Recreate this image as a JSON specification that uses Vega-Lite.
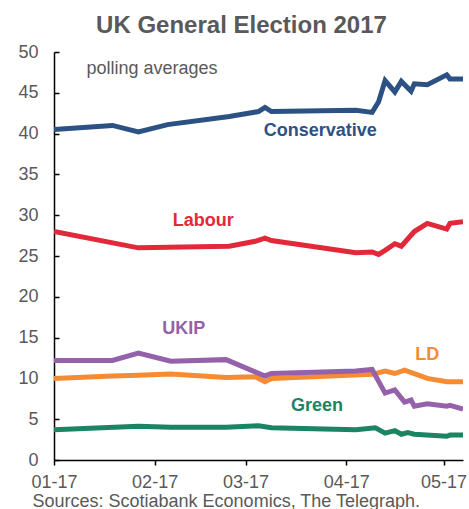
{
  "$schema": "https://vega.github.io/schema/vega-lite/v6.json",
  "width": 409,
  "height": 408,
  "autosize": {"type": "none"},
  "padding": {"left": 54, "top": 52, "right": 6, "bottom": 49},
  "background": "white",
  "config": {
    "font": "Liberation Sans",
    "view": {"stroke": null},
    "axis": {"grid": false, "domainColor": "#000000", "domainWidth": 1.5, "tickColor": "#000000", "tickWidth": 1.5, "labelColor": "#595959", "labelFontSize": 18, "labelFont": "Liberation Sans"}
  },
  "title": {"text": "UK General Election 2017", "fontSize": 24, "fontWeight": "bold", "color": "#595959", "font": "Liberation Sans", "frame": "group", "offset": 5, "dx": -17},
  "datasets": {
    "series": [
      {"date": "2017-01-01", "party": "Conservative", "value": 40.5},
      {"date": "2017-01-19", "party": "Conservative", "value": 41.0},
      {"date": "2017-01-27", "party": "Conservative", "value": 40.2},
      {"date": "2017-02-05", "party": "Conservative", "value": 41.1},
      {"date": "2017-02-24", "party": "Conservative", "value": 42.1},
      {"date": "2017-03-05", "party": "Conservative", "value": 42.7},
      {"date": "2017-03-07", "party": "Conservative", "value": 43.2},
      {"date": "2017-03-09", "party": "Conservative", "value": 42.7},
      {"date": "2017-04-04", "party": "Conservative", "value": 42.85},
      {"date": "2017-04-09", "party": "Conservative", "value": 42.6},
      {"date": "2017-04-11", "party": "Conservative", "value": 43.9},
      {"date": "2017-04-13", "party": "Conservative", "value": 46.5},
      {"date": "2017-04-16", "party": "Conservative", "value": 45.1},
      {"date": "2017-04-18", "party": "Conservative", "value": 46.4},
      {"date": "2017-04-21", "party": "Conservative", "value": 45.2},
      {"date": "2017-04-22", "party": "Conservative", "value": 46.1},
      {"date": "2017-04-26", "party": "Conservative", "value": 46.0},
      {"date": "2017-05-02", "party": "Conservative", "value": 47.2},
      {"date": "2017-05-03", "party": "Conservative", "value": 46.7},
      {"date": "2017-05-07", "party": "Conservative", "value": 46.7},
      {"date": "2017-01-01", "party": "Labour", "value": 28.0},
      {"date": "2017-01-27", "party": "Labour", "value": 26.0},
      {"date": "2017-02-24", "party": "Labour", "value": 26.2},
      {"date": "2017-03-04", "party": "Labour", "value": 26.8},
      {"date": "2017-03-07", "party": "Labour", "value": 27.2},
      {"date": "2017-03-09", "party": "Labour", "value": 26.9},
      {"date": "2017-04-04", "party": "Labour", "value": 25.4},
      {"date": "2017-04-09", "party": "Labour", "value": 25.5},
      {"date": "2017-04-11", "party": "Labour", "value": 25.2},
      {"date": "2017-04-13", "party": "Labour", "value": 25.7},
      {"date": "2017-04-16", "party": "Labour", "value": 26.5},
      {"date": "2017-04-18", "party": "Labour", "value": 26.2},
      {"date": "2017-04-22", "party": "Labour", "value": 28.0},
      {"date": "2017-04-26", "party": "Labour", "value": 29.0},
      {"date": "2017-05-02", "party": "Labour", "value": 28.3},
      {"date": "2017-05-03", "party": "Labour", "value": 29.0},
      {"date": "2017-05-07", "party": "Labour", "value": 29.2},
      {"date": "2017-01-01", "party": "LD", "value": 10.0},
      {"date": "2017-01-19", "party": "LD", "value": 10.3},
      {"date": "2017-01-27", "party": "LD", "value": 10.4},
      {"date": "2017-02-06", "party": "LD", "value": 10.55},
      {"date": "2017-02-23", "party": "LD", "value": 10.1},
      {"date": "2017-03-04", "party": "LD", "value": 10.2},
      {"date": "2017-03-07", "party": "LD", "value": 9.6},
      {"date": "2017-03-09", "party": "LD", "value": 10.0},
      {"date": "2017-04-09", "party": "LD", "value": 10.5},
      {"date": "2017-04-13", "party": "LD", "value": 10.9},
      {"date": "2017-04-16", "party": "LD", "value": 10.6},
      {"date": "2017-04-19", "party": "LD", "value": 11.0},
      {"date": "2017-04-26", "party": "LD", "value": 10.0},
      {"date": "2017-05-02", "party": "LD", "value": 9.6},
      {"date": "2017-05-07", "party": "LD", "value": 9.6},
      {"date": "2017-01-01", "party": "UKIP", "value": 12.2},
      {"date": "2017-01-19", "party": "UKIP", "value": 12.2},
      {"date": "2017-01-27", "party": "UKIP", "value": 13.1},
      {"date": "2017-02-06", "party": "UKIP", "value": 12.1},
      {"date": "2017-02-23", "party": "UKIP", "value": 12.3},
      {"date": "2017-03-07", "party": "UKIP", "value": 10.3},
      {"date": "2017-03-09", "party": "UKIP", "value": 10.6},
      {"date": "2017-04-04", "party": "UKIP", "value": 10.9},
      {"date": "2017-04-09", "party": "UKIP", "value": 11.1},
      {"date": "2017-04-13", "party": "UKIP", "value": 8.2},
      {"date": "2017-04-16", "party": "UKIP", "value": 8.6},
      {"date": "2017-04-19", "party": "UKIP", "value": 7.1},
      {"date": "2017-04-21", "party": "UKIP", "value": 7.35},
      {"date": "2017-04-22", "party": "UKIP", "value": 6.6},
      {"date": "2017-04-26", "party": "UKIP", "value": 6.9},
      {"date": "2017-05-02", "party": "UKIP", "value": 6.6},
      {"date": "2017-05-03", "party": "UKIP", "value": 6.7},
      {"date": "2017-05-07", "party": "UKIP", "value": 6.25},
      {"date": "2017-01-01", "party": "Green", "value": 3.7},
      {"date": "2017-01-27", "party": "Green", "value": 4.15},
      {"date": "2017-02-06", "party": "Green", "value": 4.0},
      {"date": "2017-02-23", "party": "Green", "value": 4.0},
      {"date": "2017-03-05", "party": "Green", "value": 4.2},
      {"date": "2017-03-09", "party": "Green", "value": 3.95},
      {"date": "2017-04-04", "party": "Green", "value": 3.7},
      {"date": "2017-04-10", "party": "Green", "value": 3.95},
      {"date": "2017-04-13", "party": "Green", "value": 3.3},
      {"date": "2017-04-16", "party": "Green", "value": 3.6},
      {"date": "2017-04-18", "party": "Green", "value": 3.15},
      {"date": "2017-04-20", "party": "Green", "value": 3.35},
      {"date": "2017-04-22", "party": "Green", "value": 3.15},
      {"date": "2017-05-02", "party": "Green", "value": 2.9},
      {"date": "2017-05-03", "party": "Green", "value": 3.05},
      {"date": "2017-05-07", "party": "Green", "value": 3.05}
    ],
    "labels": [
      {"date": "2017-03-24", "party": "Conservative", "value": 39.7, "text": "Conservative"},
      {"date": "2017-02-16", "party": "Labour", "value": 28.7, "text": "Labour"},
      {"date": "2017-02-10", "party": "UKIP", "value": 15.4, "text": "UKIP"},
      {"date": "2017-04-26", "party": "LD", "value": 12.25, "text": "LD"},
      {"date": "2017-03-23", "party": "Green", "value": 6.0, "text": "Green"}
    ],
    "notes": [
      {"date": "2017-01-11", "value": 47.3, "text": "polling averages"}
    ]
  },
  "encoding": {
    "x": {
      "field": "date", "type": "temporal",
      "scale": {"type": "utc", "domain": [{"year": 2017, "month": 1, "date": 1, "utc": true}, {"year": 2017, "month": 5, "date": 7, "utc": true}]},
      "axis": {
        "values": [{"year": 2017, "month": 1, "date": 1, "utc": true}, {"year": 2017, "month": 2, "date": 1, "utc": true}, {"year": 2017, "month": 3, "date": 1, "utc": true}, {"year": 2017, "month": 4, "date": 1, "utc": true}, {"year": 2017, "month": 5, "date": 1, "utc": true}],
        "format": "%m-%y", "labelFlush": false, "labelOverlap": false, "tickSize": 5, "labelPadding": 8,
        "title": "Sources: Scotiabank Economics, The Telegraph.",
        "titleFontSize": 18, "titleFontWeight": "normal", "titleColor": "#595959", "titleFont": "Liberation Sans",
        "titleAnchor": "start", "titleAlign": "left", "titleBaseline": "alphabetic", "titleX": -22, "titleY": 46
      }
    },
    "y": {
      "field": "value", "type": "quantitative",
      "scale": {"domain": [0, 50], "nice": false},
      "axis": {"values": [0, 5, 10, 15, 20, 25, 30, 35, 40, 45, 50], "tickSize": -5, "labelPadding": 21, "title": null}
    }
  },
  "layer": [
    {
      "data": {"name": "series"},
      "mark": {"type": "line", "strokeWidth": 5, "clip": true},
      "encoding": {
        "color": {"field": "party", "type": "nominal", "legend": null,
          "scale": {"domain": ["Conservative", "Labour", "LD", "UKIP", "Green"], "range": ["#2C5183", "#E2293A", "#F58B33", "#9561AA", "#1B8462"]}},
        "order": {"field": "date"}
      }
    },
    {
      "data": {"name": "labels"},
      "mark": {"type": "text", "fontSize": 18, "fontWeight": "bold", "align": "center", "baseline": "alphabetic", "font": "Liberation Sans"},
      "encoding": {
        "text": {"field": "text"},
        "color": {"field": "party", "type": "nominal", "legend": null}
      }
    },
    {
      "data": {"name": "notes"},
      "mark": {"type": "text", "fontSize": 18, "align": "left", "baseline": "alphabetic", "color": "#595959", "font": "Liberation Sans"},
      "encoding": {"text": {"field": "text"}}
    }
  ]
}
